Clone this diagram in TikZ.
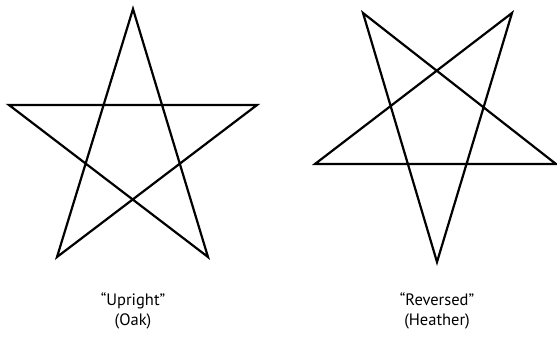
\documentclass[tikz,border=0pt]{standalone}
\usepackage{fontspec}
\setmainfont{PT Sans}
\begin{document}
\begin{tikzpicture}[x=1pt,y=-1pt,
  starline/.style={line width=2.2pt,line join=miter,black},
  lbl/.style={font=\fontsize{16.5}{20.5}\selectfont,align=center,inner sep=0pt}]
\useasboundingbox (0,0) rectangle (557,342);
% upright star
\coordinate (uT) at (133,9);
\coordinate (uL) at (9,105);
\coordinate (uR) at (257,105);
\coordinate (uBL) at (57,257);
\coordinate (uBR) at (208,257);
\draw[starline] (uT) -- (uBL) -- (uR) -- (uL) -- (uBR) -- cycle;
% reversed star
\coordinate (rTL) at (363,13);
\coordinate (rTR) at (512,13);
\coordinate (rL) at (315,164);
\coordinate (rR) at (556,164);
\coordinate (rB) at (437,262);
\draw[starline] (rB) -- (rTL) -- (rR) -- (rL) -- (rTR) -- cycle;
\node[lbl] (up) at (133,311) {“Upright”\\(Oak)};
\node[lbl] (rev) at (437,311) {“Reversed”\\(Heather)};
\end{tikzpicture}
\end{document}
